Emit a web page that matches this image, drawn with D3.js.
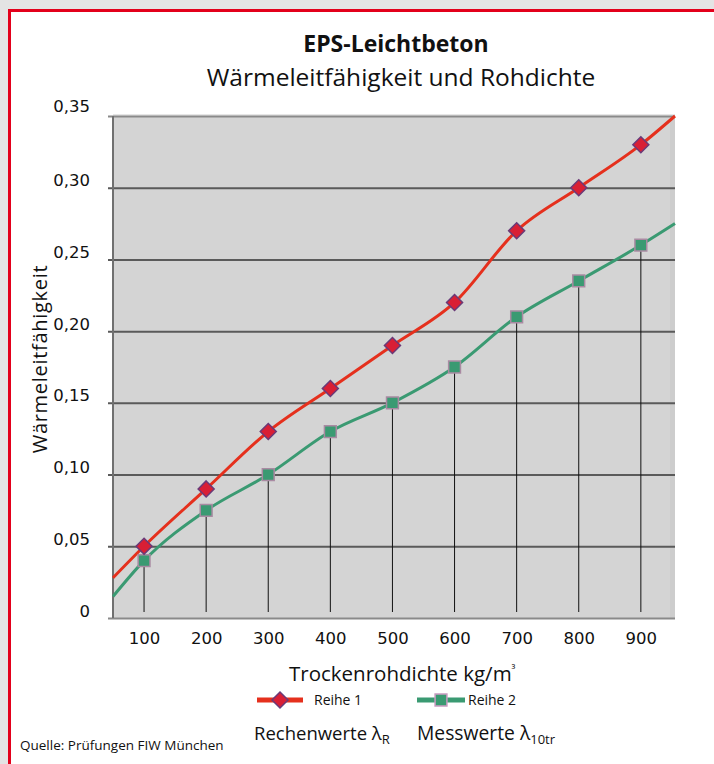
<!DOCTYPE html>
<html><head><meta charset="utf-8">
<script src="https://cdn.jsdelivr.net/npm/d3@7"></script>
<style>html,body{margin:0;padding:0;background:#e4e4e4;}svg{display:block;}</style>
</head><body>
<script>
const densities = [100, 200, 300, 400, 500, 600, 700, 800, 900];
const reihe1 = [0.05, 0.09, 0.13, 0.16, 0.19, 0.22, 0.27, 0.30, 0.33];
const reihe2 = [0.04, 0.075, 0.10, 0.13, 0.15, 0.175, 0.21, 0.235, 0.26];
// line continuation at plot edges
const edgeX = [50, 955];
const reihe1Edge = [0.028, 0.35];
const reihe2Edge = [0.015, 0.275];
const yTicks = [0, 0.05, 0.10, 0.15, 0.20, 0.25, 0.30, 0.35];
const yTickLabels = ["0", "0,05", "0,10", "0,15", "0,20", "0,25", "0,30", "0,35"];

const W = 714, H = 764;
const svg = d3.select("body").append("svg").attr("width", W).attr("height", H);
svg.append("rect").attr("x", 0).attr("y", 0).attr("width", W).attr("height", H).attr("fill", "#e4e4e4");
svg.append("rect").attr("x", 9.5).attr("y", 10.5).attr("width", W + 20).attr("height", H + 20)
  .attr("fill", "#fff").attr("stroke", "#e3001b").attr("stroke-width", 3);

const L = 113, R = 675, T = 116, B = 618;
const x = d3.scaleLinear().domain(edgeX).range([L, R]);
const y = d3.scaleLinear().domain([0, 0.35]).range([B, T]);

const titleFont = "'Open Sans', 'Noto Sans', sans-serif";
const tickFont = "'DejaVu Sans', sans-serif";

// plot background
svg.append("rect").attr("x", L).attr("y", T).attr("width", R - L).attr("height", B - T).attr("fill", "#d4d4d4");
svg.append("rect").attr("x", R - 5).attr("y", T).attr("width", 5).attr("height", B - T).attr("fill", "#cdcdcd");
svg.append("line").attr("x1", L).attr("x2", R).attr("y1", T - 1).attr("y2", T - 1).attr("stroke", "#e6e6e6").attr("stroke-width", 2);

// grid lines + y labels
const yAxis = d3.axisLeft(y).tickValues(yTicks).tickFormat((d, i) => yTickLabels[i]).tickSize(-(R - L) - 5).tickPadding(10);
const gy = svg.append("g").attr("transform", `translate(${L - 5},0)`).call(yAxis);
gy.select(".domain").remove();
gy.selectAll(".tick line").attr("stroke", "#5a5a5a").attr("stroke-width", 2);
gy.selectAll(".tick text").attr("font-family", tickFont).attr("font-size", 16.5).attr("fill", "#111")
  .attr("x", -18).attr("dy", d => d === 0.35 ? "-0.3em" : "-0.12em");
gy.selectAll(".tick").filter(d => d === 0 || d === 0.35).select("line").attr("stroke", "#8a8a8a");

// left axis line
svg.append("line").attr("x1", L).attr("x2", L).attr("y1", T).attr("y2", B).attr("stroke", "#707070").attr("stroke-width", 2);

// x axis labels
const xAxis = d3.axisBottom(x).tickValues(densities).tickSize(0).tickPadding(14);
const gx = svg.append("g").attr("transform", `translate(0,${B})`).call(xAxis);
gx.select(".domain").remove();
gx.selectAll(".tick text").attr("font-family", tickFont).attr("font-size", 16.5).attr("fill", "#111");

// drop lines
svg.append("g").selectAll("line").data(densities).join("line")
  .attr("x1", d => x(d)).attr("x2", d => x(d))
  .attr("y1", (d, i) => y(reihe2[i])).attr("y2", B - 6)
  .attr("stroke", "#111").attr("stroke-width", 1);

const line = d3.line().x(d => x(d[0])).y(d => y(d[1])).curve(d3.curveMonotoneX);
const pts1 = [[edgeX[0], reihe1Edge[0]], ...densities.map((d, i) => [d, reihe1[i]]), [edgeX[1], reihe1Edge[1]]];
const pts2 = [[edgeX[0], reihe2Edge[0]], ...densities.map((d, i) => [d, reihe2[i]]), [edgeX[1], reihe2Edge[1]]];

const red = "#e5301d", green = "#3a9a72";
svg.append("path").attr("d", line(pts2)).attr("fill", "none").attr("stroke", green).attr("stroke-width", 3);
svg.append("path").attr("d", line(pts1)).attr("fill", "none").attr("stroke", red).attr("stroke-width", 3);

// markers
const sq = d3.symbol().type(d3.symbolSquare).size(140);
const diaPath = "M0,-8L8,0L0,8L-8,0Z";
svg.append("g").selectAll("path").data(densities).join("path")
  .attr("d", sq).attr("transform", (d, i) => `translate(${x(d)},${y(reihe2[i])})`)
  .attr("fill", green).attr("stroke", "#a98aa2").attr("stroke-width", 1.5);
svg.append("g").selectAll("path").data(densities).join("path")
  .attr("d", diaPath).attr("transform", (d, i) => `translate(${x(d)},${y(reihe1[i])})`)
  .attr("fill", "#d91f35").attr("stroke", "#6a3a78").attr("stroke-width", 1.5);

// titles
svg.append("text").attr("x", 396).attr("y", 52).attr("text-anchor", "middle")
  .attr("font-family", titleFont).attr("font-size", 23).attr("font-weight", "bold").attr("fill", "#111").text("EPS-Leichtbeton");
svg.append("text").attr("x", 401).attr("y", 86).attr("text-anchor", "middle")
  .attr("font-family", titleFont).attr("font-size", 24.5).attr("fill", "#111").text("Wärmeleitfähigkeit und Rohdichte");

// y title
svg.append("text").attr("transform", "translate(47,359) rotate(-90)").attr("text-anchor", "middle")
  .attr("font-family", titleFont).attr("font-size", 20).attr("letter-spacing", 0.7).attr("fill", "#111").text("Wärmeleitfähigkeit");

// x title
const xt = svg.append("text").attr("x", 289).attr("y", 681)
  .attr("font-family", titleFont).attr("font-size", 20.5).attr("fill", "#111");
xt.append("tspan").text("Trockenrohdichte kg/m");
xt.append("tspan").attr("font-size", 11).attr("dy", -8).text("³");

// legend
const lg = svg.append("g");
lg.append("line").attr("x1", 257).attr("x2", 303).attr("y1", 700).attr("y2", 700).attr("stroke", red).attr("stroke-width", 5);
lg.append("path").attr("d", diaPath).attr("transform", "translate(280,700)").attr("fill", "#d91f35").attr("stroke", "#6a3a78").attr("stroke-width", 1.5);
lg.append("text").attr("x", 314).attr("y", 705).attr("font-family", titleFont).attr("font-size", 14).attr("fill", "#111").text("Reihe 1");
lg.append("line").attr("x1", 417).attr("x2", 465).attr("y1", 700).attr("y2", 700).attr("stroke", green).attr("stroke-width", 5);
lg.append("path").attr("d", sq).attr("transform", "translate(441,700)").attr("fill", green).attr("stroke", "#c89ac0").attr("stroke-width", 1.5);
lg.append("text").attr("x", 468).attr("y", 705).attr("font-family", titleFont).attr("font-size", 14).attr("fill", "#111").text("Reihe 2");

const t1 = svg.append("text").attr("x", 254).attr("y", 740).attr("font-family", titleFont).attr("font-size", 18.5).attr("fill", "#111");
t1.append("tspan").text("Rechenwerte λ");
t1.append("tspan").attr("font-size", 13).attr("dy", 4).text("R");
const t2 = svg.append("text").attr("x", 417).attr("y", 740).attr("font-family", titleFont).attr("font-size", 19.3).attr("fill", "#111");
t2.append("tspan").text("Messwerte λ");
t2.append("tspan").attr("font-size", 13).attr("dy", 4).text("10tr");

svg.append("text").attr("x", 20).attr("y", 750).attr("font-family", titleFont).attr("font-size", 13.5).attr("fill", "#111").text("Quelle: Prüfungen FIW München");
</script>
</body></html>
